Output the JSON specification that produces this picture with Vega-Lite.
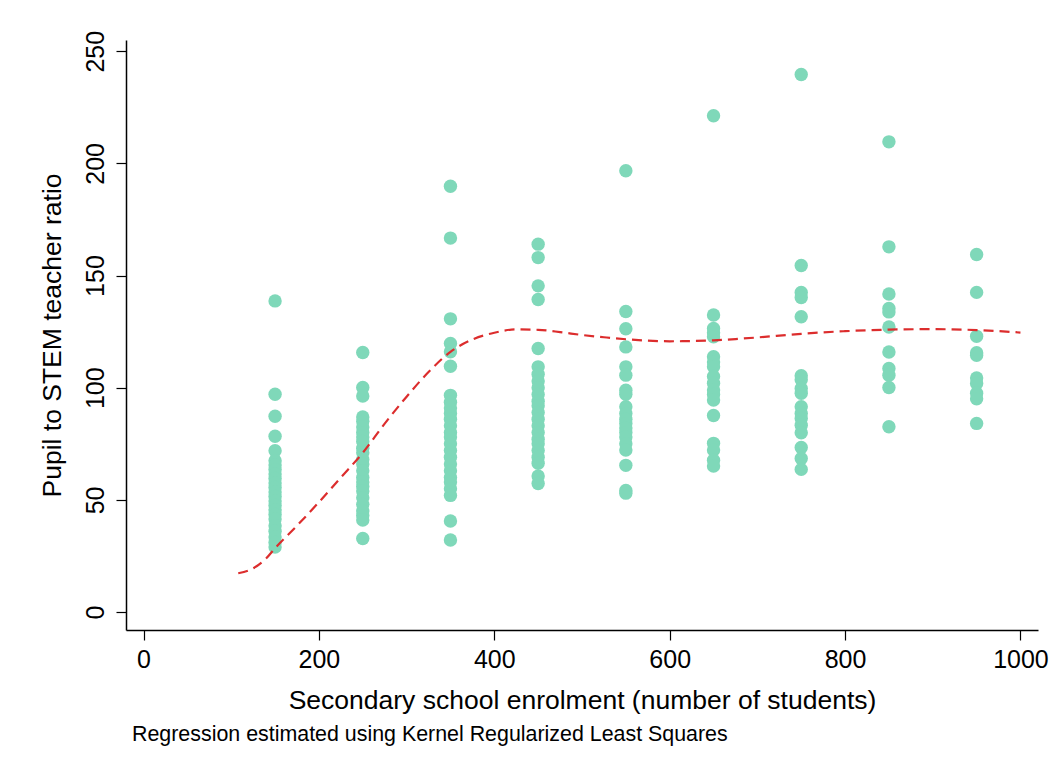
{
  "$schema": "https://vega.github.io/schema/vega-lite/v6.json",
  "autosize": {"type": "none"},
  "width": 912,
  "height": 590,
  "padding": {"left": 126, "top": 40, "right": 17, "bottom": 141},
  "background": "white",
  "config": {
    "view": {"stroke": null},
    "font": "Liberation Sans",
    "axis": {
      "grid": false,
      "domainColor": "#000000",
      "domainWidth": 1.5,
      "tickColor": "#000000",
      "tickWidth": 1.2,
      "tickSize": 10,
      "labelColor": "#000000",
      "titleColor": "#000000",
      "labelFont": "Liberation Sans",
      "titleFont": "Liberation Sans",
      "labelFontSize": 25,
      "titleFontSize": 26.5,
      "titleFontWeight": "normal"
    }
  },
  "title": {
    "text": "Regression estimated using Kernel Regularized Least Squares",
    "orient": "bottom",
    "anchor": "start",
    "frame": "group",
    "fontSize": 21.4,
    "fontWeight": "normal",
    "font": "Liberation Sans",
    "color": "#000000",
    "dx": 6,
    "offset": 10
  },
  "datasets": {
    "pts": [
      {"enrol": 150, "ratio": 138.7}, {"enrol": 150, "ratio": 97.1}, {"enrol": 150, "ratio": 87.3}, {"enrol": 150, "ratio": 78.4}, {"enrol": 150, "ratio": 71.9},
      {"enrol": 150, "ratio": 67.5}, {"enrol": 150, "ratio": 65.5}, {"enrol": 150, "ratio": 63.5}, {"enrol": 150, "ratio": 61.5}, {"enrol": 150, "ratio": 59.5},
      {"enrol": 150, "ratio": 57.5}, {"enrol": 150, "ratio": 55.5}, {"enrol": 150, "ratio": 53.5}, {"enrol": 150, "ratio": 51.5}, {"enrol": 150, "ratio": 49.5},
      {"enrol": 150, "ratio": 47.5}, {"enrol": 150, "ratio": 45.5}, {"enrol": 150, "ratio": 43.5}, {"enrol": 150, "ratio": 41.5}, {"enrol": 150, "ratio": 38.5},
      {"enrol": 150, "ratio": 36}, {"enrol": 150, "ratio": 33.5}, {"enrol": 150, "ratio": 31}, {"enrol": 150, "ratio": 29},
      {"enrol": 250, "ratio": 115.7}, {"enrol": 250, "ratio": 100.1}, {"enrol": 250, "ratio": 96.3}, {"enrol": 250, "ratio": 87}, {"enrol": 250, "ratio": 85},
      {"enrol": 250, "ratio": 82.5}, {"enrol": 250, "ratio": 80}, {"enrol": 250, "ratio": 78}, {"enrol": 250, "ratio": 76}, {"enrol": 250, "ratio": 73},
      {"enrol": 250, "ratio": 71}, {"enrol": 250, "ratio": 68}, {"enrol": 250, "ratio": 66}, {"enrol": 250, "ratio": 63}, {"enrol": 250, "ratio": 60},
      {"enrol": 250, "ratio": 58}, {"enrol": 250, "ratio": 56}, {"enrol": 250, "ratio": 54}, {"enrol": 250, "ratio": 51}, {"enrol": 250, "ratio": 48},
      {"enrol": 250, "ratio": 45}, {"enrol": 250, "ratio": 43}, {"enrol": 250, "ratio": 41}, {"enrol": 250, "ratio": 32.8},
      {"enrol": 350, "ratio": 189.8}, {"enrol": 350, "ratio": 166.7}, {"enrol": 350, "ratio": 130.7}, {"enrol": 350, "ratio": 119.7}, {"enrol": 350, "ratio": 116},
      {"enrol": 350, "ratio": 109.6}, {"enrol": 350, "ratio": 96.6}, {"enrol": 350, "ratio": 93.5}, {"enrol": 350, "ratio": 91}, {"enrol": 350, "ratio": 88.5},
      {"enrol": 350, "ratio": 86}, {"enrol": 350, "ratio": 83}, {"enrol": 350, "ratio": 80}, {"enrol": 350, "ratio": 78}, {"enrol": 350, "ratio": 75},
      {"enrol": 350, "ratio": 72}, {"enrol": 350, "ratio": 69}, {"enrol": 350, "ratio": 66}, {"enrol": 350, "ratio": 63}, {"enrol": 350, "ratio": 60},
      {"enrol": 350, "ratio": 58}, {"enrol": 350, "ratio": 55}, {"enrol": 350, "ratio": 52}, {"enrol": 350, "ratio": 40.6}, {"enrol": 350, "ratio": 32.1},
      {"enrol": 450, "ratio": 164}, {"enrol": 450, "ratio": 158}, {"enrol": 450, "ratio": 145.4}, {"enrol": 450, "ratio": 139.3}, {"enrol": 450, "ratio": 117.5},
      {"enrol": 450, "ratio": 109.3}, {"enrol": 450, "ratio": 106}, {"enrol": 450, "ratio": 103}, {"enrol": 450, "ratio": 100}, {"enrol": 450, "ratio": 97},
      {"enrol": 450, "ratio": 94}, {"enrol": 450, "ratio": 92}, {"enrol": 450, "ratio": 89}, {"enrol": 450, "ratio": 86}, {"enrol": 450, "ratio": 83},
      {"enrol": 450, "ratio": 80}, {"enrol": 450, "ratio": 77}, {"enrol": 450, "ratio": 75}, {"enrol": 450, "ratio": 72}, {"enrol": 450, "ratio": 69},
      {"enrol": 450, "ratio": 66.3}, {"enrol": 450, "ratio": 60.6}, {"enrol": 450, "ratio": 57.3},
      {"enrol": 550, "ratio": 196.7}, {"enrol": 550, "ratio": 134}, {"enrol": 550, "ratio": 126.3}, {"enrol": 550, "ratio": 118.2}, {"enrol": 550, "ratio": 109.3},
      {"enrol": 550, "ratio": 105.6}, {"enrol": 550, "ratio": 98.9}, {"enrol": 550, "ratio": 97.1}, {"enrol": 550, "ratio": 91.5}, {"enrol": 550, "ratio": 88.5},
      {"enrol": 550, "ratio": 86}, {"enrol": 550, "ratio": 84}, {"enrol": 550, "ratio": 82}, {"enrol": 550, "ratio": 80}, {"enrol": 550, "ratio": 78},
      {"enrol": 550, "ratio": 75}, {"enrol": 550, "ratio": 72.2}, {"enrol": 550, "ratio": 65.4}, {"enrol": 550, "ratio": 54.2}, {"enrol": 550, "ratio": 53},
      {"enrol": 650, "ratio": 221.2}, {"enrol": 650, "ratio": 132.4}, {"enrol": 650, "ratio": 126.4}, {"enrol": 650, "ratio": 124.5}, {"enrol": 650, "ratio": 122.7},
      {"enrol": 650, "ratio": 113.8}, {"enrol": 650, "ratio": 111.5}, {"enrol": 650, "ratio": 109.3}, {"enrol": 650, "ratio": 105}, {"enrol": 650, "ratio": 102},
      {"enrol": 650, "ratio": 99}, {"enrol": 650, "ratio": 97}, {"enrol": 650, "ratio": 94.5}, {"enrol": 650, "ratio": 87.6}, {"enrol": 650, "ratio": 75.2},
      {"enrol": 650, "ratio": 72.2}, {"enrol": 650, "ratio": 67.7}, {"enrol": 650, "ratio": 65.1},
      {"enrol": 750, "ratio": 239.6}, {"enrol": 750, "ratio": 154.5}, {"enrol": 750, "ratio": 142.5}, {"enrol": 750, "ratio": 140.2}, {"enrol": 750, "ratio": 131.6},
      {"enrol": 750, "ratio": 105.3}, {"enrol": 750, "ratio": 103.5}, {"enrol": 750, "ratio": 99.7}, {"enrol": 750, "ratio": 97.5}, {"enrol": 750, "ratio": 91.5},
      {"enrol": 750, "ratio": 88.5}, {"enrol": 750, "ratio": 86.3}, {"enrol": 750, "ratio": 83.3}, {"enrol": 750, "ratio": 79.9}, {"enrol": 750, "ratio": 73.4},
      {"enrol": 750, "ratio": 68.5}, {"enrol": 750, "ratio": 63.6},
      {"enrol": 850, "ratio": 209.6}, {"enrol": 850, "ratio": 162.8}, {"enrol": 850, "ratio": 141.8}, {"enrol": 850, "ratio": 135.3}, {"enrol": 850, "ratio": 133.8},
      {"enrol": 850, "ratio": 127.1}, {"enrol": 850, "ratio": 115.9}, {"enrol": 850, "ratio": 108.6}, {"enrol": 850, "ratio": 105.6}, {"enrol": 850, "ratio": 100.1},
      {"enrol": 850, "ratio": 82.6},
      {"enrol": 950, "ratio": 159.4}, {"enrol": 950, "ratio": 142.5}, {"enrol": 950, "ratio": 122.9}, {"enrol": 950, "ratio": 115.6}, {"enrol": 950, "ratio": 114.5},
      {"enrol": 950, "ratio": 104.3}, {"enrol": 950, "ratio": 101.9}, {"enrol": 950, "ratio": 97.5}, {"enrol": 950, "ratio": 95.1}, {"enrol": 950, "ratio": 84.1}
    ],
    "fit": [
      {"enrol": 108, "ratio": 17.3}, {"enrol": 125, "ratio": 19.5}, {"enrol": 140, "ratio": 24}, {"enrol": 150, "ratio": 28.5},
      {"enrol": 175, "ratio": 38.5}, {"enrol": 200, "ratio": 49}, {"enrol": 225, "ratio": 60}, {"enrol": 250, "ratio": 71},
      {"enrol": 275, "ratio": 84}, {"enrol": 300, "ratio": 96}, {"enrol": 325, "ratio": 107}, {"enrol": 350, "ratio": 116},
      {"enrol": 375, "ratio": 121.5}, {"enrol": 400, "ratio": 124.5}, {"enrol": 425, "ratio": 126}, {"enrol": 450, "ratio": 125.8},
      {"enrol": 475, "ratio": 124.8}, {"enrol": 500, "ratio": 123.5}, {"enrol": 525, "ratio": 122.5}, {"enrol": 550, "ratio": 121.6},
      {"enrol": 575, "ratio": 121}, {"enrol": 600, "ratio": 120.7}, {"enrol": 625, "ratio": 120.8}, {"enrol": 650, "ratio": 121.1},
      {"enrol": 675, "ratio": 121.7}, {"enrol": 700, "ratio": 122.4}, {"enrol": 725, "ratio": 123.2}, {"enrol": 750, "ratio": 124},
      {"enrol": 775, "ratio": 124.7}, {"enrol": 800, "ratio": 125.2}, {"enrol": 850, "ratio": 125.9}, {"enrol": 900, "ratio": 126.1},
      {"enrol": 950, "ratio": 125.7}, {"enrol": 1000, "ratio": 124.6}
    ]
  },
  "encoding": {
    "x": {
      "field": "enrol", "type": "quantitative",
      "scale": {"domain": [-20, 1020], "nice": false, "zero": false},
      "axis": {"values": [0, 200, 400, 600, 800, 1000], "format": "d", "title": "Secondary school enrolment (number of students)", "labelPadding": 7, "titlePadding": 15, "labelFlush": false}
    },
    "y": {
      "field": "ratio", "type": "quantitative",
      "scale": {"domain": [-8, 255], "nice": false, "zero": false},
      "axis": {"values": [0, 50, 100, 150, 200, 250], "format": "d", "title": "Pupil to STEM teacher ratio", "labelAngle": -90, "labelAlign": "center", "labelBaseline": "bottom", "labelPadding": 8, "titlePadding": 17, "labelFlush": false}
    }
  },
  "layer": [
    {
      "data": {"name": "pts"},
      "mark": {"type": "circle", "size": 180, "color": "#7fd8b9", "opacity": 1}
    },
    {
      "data": {"name": "fit"},
      "mark": {"type": "line", "color": "#dc2d2d", "strokeWidth": 2.2, "strokeDash": [10, 6], "interpolate": "monotone"}
    }
  ]
}
